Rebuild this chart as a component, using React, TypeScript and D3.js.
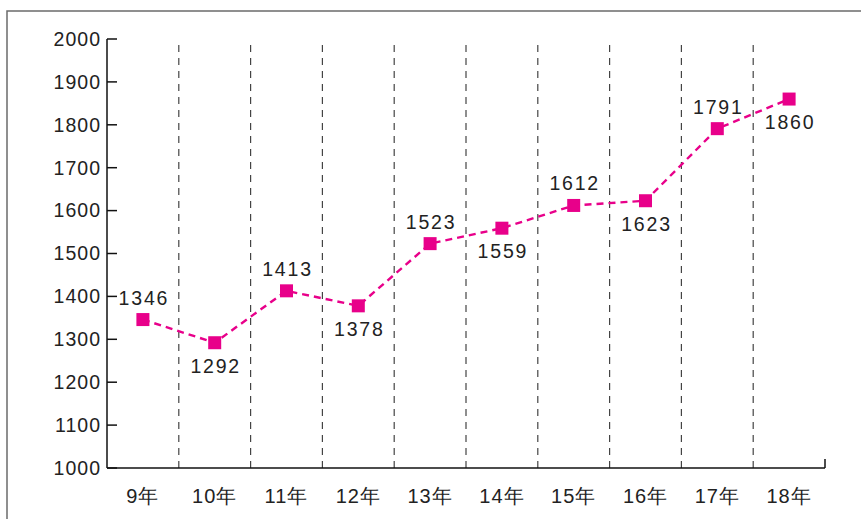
import React from 'react';
import * as d3 from 'd3';

// chart data
const years = ['9年', '10年', '11年', '12年', '13年', '14年', '15年', '16年', '17年', '18年'];
const values = [1346, 1292, 1413, 1378, 1523, 1559, 1612, 1623, 1791, 1860];
const yTicks = [1000, 1100, 1200, 1300, 1400, 1500, 1600, 1700, 1800, 1900, 2000];

const W = 861;
const H = 519;
const left = 107;
const right = 825;
const top = 39;
const bottom = 468;
const font = '"Liberation Sans", Arial, sans-serif';
const pink = '#e8008a';

export default function App() {
    const x = d3.scaleBand<string>().domain(years).range([left, right]);
    const y = d3.scaleLinear().domain([1000, 2000]).range([bottom, top]);
    const cx = (d: string) => (x(d) as number) + x.bandwidth() / 2;

    const line = d3.line<number>()
        .x((d, i) => cx(years[i]))
        .y((d) => y(d));

    return (
        <svg width={W} height={H} style={{ position: 'fixed', left: 0, top: 0, background: '#fff' }}>
            {/* outer frame */}
            <path d={`M7,${H + 5}V11H${W + 5}`} fill="none" stroke="#6b6b6b" strokeWidth={1.5} />

            {/* dashed separators between years */}
            {years.slice(1).map((d) => (
                <line key={d} x1={x(d)} x2={x(d)} y1={45} y2={bottom}
                    stroke="#444" strokeWidth={1.2} strokeDasharray="7,6" />
            ))}

            {/* y axis */}
            <line x1={left} x2={left} y1={top} y2={bottom} stroke="#111" strokeWidth={1.5} />
            {yTicks.map((t) => (
                <g key={t}>
                    <line x1={left} x2={left + 10} y1={y(t)} y2={y(t)} stroke="#111" strokeWidth={1.5} />
                    <text x={left - 6} y={y(t)} dy="0.35em" textAnchor="end"
                        fontFamily={font} fontSize={19.5} fill="#222" letterSpacing={1}>{t}</text>
                </g>
            ))}

            {/* x axis */}
            <line x1={left} x2={right} y1={bottom} y2={bottom} stroke="#111" strokeWidth={1.5} />
            <line x1={right} x2={right} y1={bottom - 9} y2={bottom} stroke="#111" strokeWidth={1.5} />
            {years.map((d) => (
                <text key={d} x={cx(d)} y={503} textAnchor="middle"
                    fontFamily={font} fontSize={20} fill="#222" letterSpacing={1}>{d}</text>
            ))}

            {/* series */}
            <path d={line(values) || ''} fill="none" stroke={pink} strokeWidth={2.4} strokeDasharray="7,5" />
            {values.map((v, i) => (
                <rect key={i} x={cx(years[i]) - 6.5} y={y(v) - 6.5} width={13} height={13} fill={pink} />
            ))}
            {values.map((v, i) => (
                <text key={'l' + i} x={cx(years[i]) + 1} y={i % 2 === 0 ? y(v) - 15 : y(v) + 30}
                    textAnchor="middle" fontFamily={font} fontSize={19.5} fill="#222" letterSpacing={1.8}>{v}</text>
            ))}
        </svg>
    );
}
